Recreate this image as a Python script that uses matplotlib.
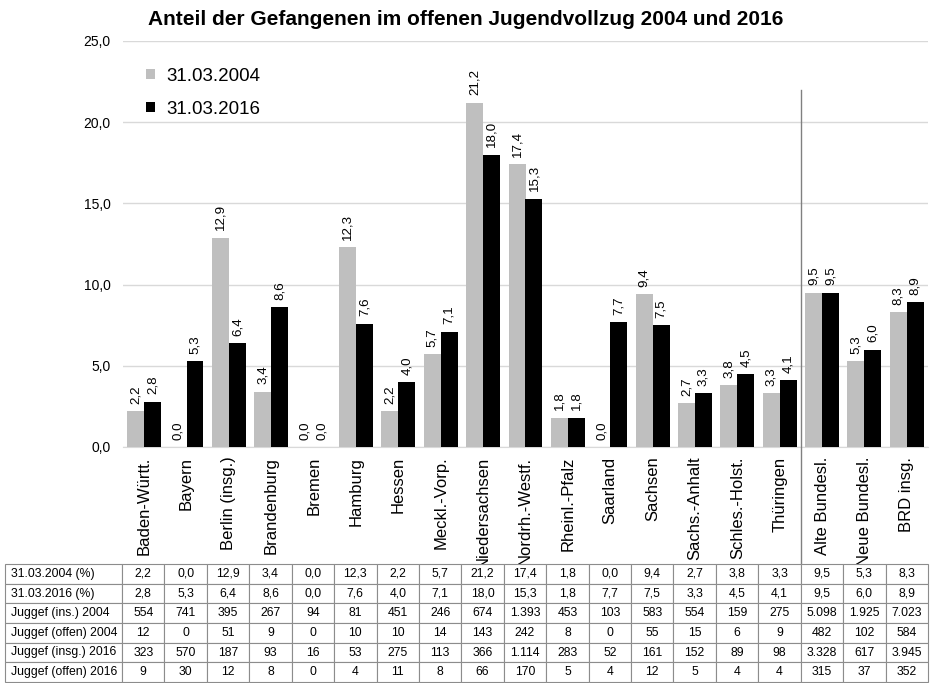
import numpy as np
import matplotlib
matplotlib.use('Agg')
import matplotlib.pyplot as plt

plt.rcParams['font.family'] = ['Liberation Sans', 'DejaVu Sans']

laender = ['Baden-Württ.', 'Bayern', 'Berlin (insg.)', 'Brandenburg', 'Bremen', 'Hamburg',
           'Hessen', 'Meckl.-Vorp.', 'Niedersachsen', 'Nordrh.-Westf.', 'Rheinl.-Pfalz',
           'Saarland', 'Sachsen', 'Sachs.-Anhalt', 'Schles.-Holst.', 'Thüringen',
           'Alte Bundesl.', 'Neue Bundesl.', 'BRD insg.']
anteil2004 = [2.2, 0.0, 12.9, 3.4, 0.0, 12.3, 2.2, 5.7, 21.2, 17.4, 1.8, 0.0, 9.4, 2.7, 3.8, 3.3, 9.5, 5.3, 8.3]
anteil2016 = [2.8, 5.3, 6.4, 8.6, 0.0, 7.6, 4.0, 7.1, 18.0, 15.3, 1.8, 7.7, 7.5, 3.3, 4.5, 4.1, 9.5, 6.0, 8.9]
ins2004 = [554, 741, 395, 267, 94, 81, 451, 246, 674, 1393, 453, 103, 583, 554, 159, 275, 5098, 1925, 7023]
offen2004 = [12, 0, 51, 9, 0, 10, 10, 14, 143, 242, 8, 0, 55, 15, 6, 9, 482, 102, 584]
insg2016 = [323, 570, 187, 93, 16, 53, 275, 113, 366, 1114, 283, 52, 161, 152, 89, 98, 3328, 617, 3945]
offen2016 = [9, 30, 12, 8, 0, 4, 11, 8, 66, 170, 5, 4, 12, 5, 4, 4, 315, 37, 352]
row_labels = ['31.03.2004 (%)', '31.03.2016 (%)', 'Juggef (ins.) 2004', 'Juggef (offen) 2004',
              'Juggef (insg.) 2016', 'Juggef (offen) 2016']
legend_labels = ['31.03.2004', '31.03.2016']

grey = '#bfbfbf'
W, H = 932, 683

def pct(v):
    return ('%.1f' % v).replace('.', ',')

def cnt(v):
    return '{:,}'.format(v).replace(',', '.')

fig = plt.figure(figsize=(W / 100, H / 100), dpi=100)
ax = fig.add_axes([123 / W, 1 - 447 / H, (928 - 123) / W, (447 - 41) / H])

x = np.arange(len(laender))
bw = 0.4
b1 = ax.bar(x - bw / 2, anteil2004, bw, color=grey, label=legend_labels[0], zorder=3)
b2 = ax.bar(x + bw / 2, anteil2016, bw, color='black', label=legend_labels[1], zorder=3)
for bars, vals in [(b1, anteil2004), (b2, anteil2016)]:
    for r, v in zip(bars, vals):
        ax.text(r.get_x() + r.get_width() / 2, v + 0.45, pct(v), rotation=90,
                ha='center', va='bottom', fontsize=9.6)

ax.set_ylim(0, 25)
ax.set_xlim(-0.5, len(laender) - 0.5)
ax.set_yticks(np.arange(0, 26, 5))
ax.set_yticklabels([pct(v) for v in np.arange(0, 26, 5)], fontsize=10)
ax.set_xticks(x)
ax.set_xticklabels(laender, rotation=90, fontsize=12)
ax.tick_params(length=0)
ax.xaxis.set_tick_params(pad=7)
ax.yaxis.set_tick_params(pad=9)
ax.grid(axis='y', color='#d9d9d9', lw=1, zorder=0)
for s in ['left', 'right', 'top']:
    ax.spines[s].set_visible(False)
ax.spines['bottom'].set_color('#d9d9d9')

# Trennlinie zwischen Ländern und Summen
ax.plot([15.5, 15.5], [22.0, -7.2], color='#808080', lw=1, clip_on=False, zorder=4)

ax.legend(loc='upper left', bbox_to_anchor=(0.008, 0.975), frameon=False, fontsize=13.5,
          handlelength=0.45, handleheight=0.45, labelspacing=0.85, handletextpad=0.6)

fig.suptitle('Anteil der Gefangenen im offenen Jugendvollzug 2004 und 2016',
             fontweight='bold', fontsize=15, x=0.5, y=0.985)

# Datentabelle
tax = fig.add_axes([5 / W, 1 / H, (928 - 5) / W, (683 - 565) / H])
tax.axis('off')
cells = [[pct(v) for v in anteil2004], [pct(v) for v in anteil2016],
         [cnt(v) for v in ins2004], [cnt(v) for v in offen2004],
         [cnt(v) for v in insg2016], [cnt(v) for v in offen2016]]
rows = [[lab] + c for lab, c in zip(row_labels, cells)]
colw = [117] + [42.4] * len(laender)
tab = tax.table(cellText=rows, colWidths=[c / sum(colw) for c in colw], bbox=[0, 0, 1, 1],
                cellLoc='center')
tab.auto_set_font_size(False)
tab.set_fontsize(8.8)
for (r, c), cell in tab.get_celld().items():
    cell.set_edgecolor('#8c8c8c')
    cell.set_linewidth(0.8)
    if c == 0:
        cell._loc = 'left'
        cell.PAD = 0.05
        cell.get_text().set_ha('left')

fig.savefig('out.png', dpi=100)
